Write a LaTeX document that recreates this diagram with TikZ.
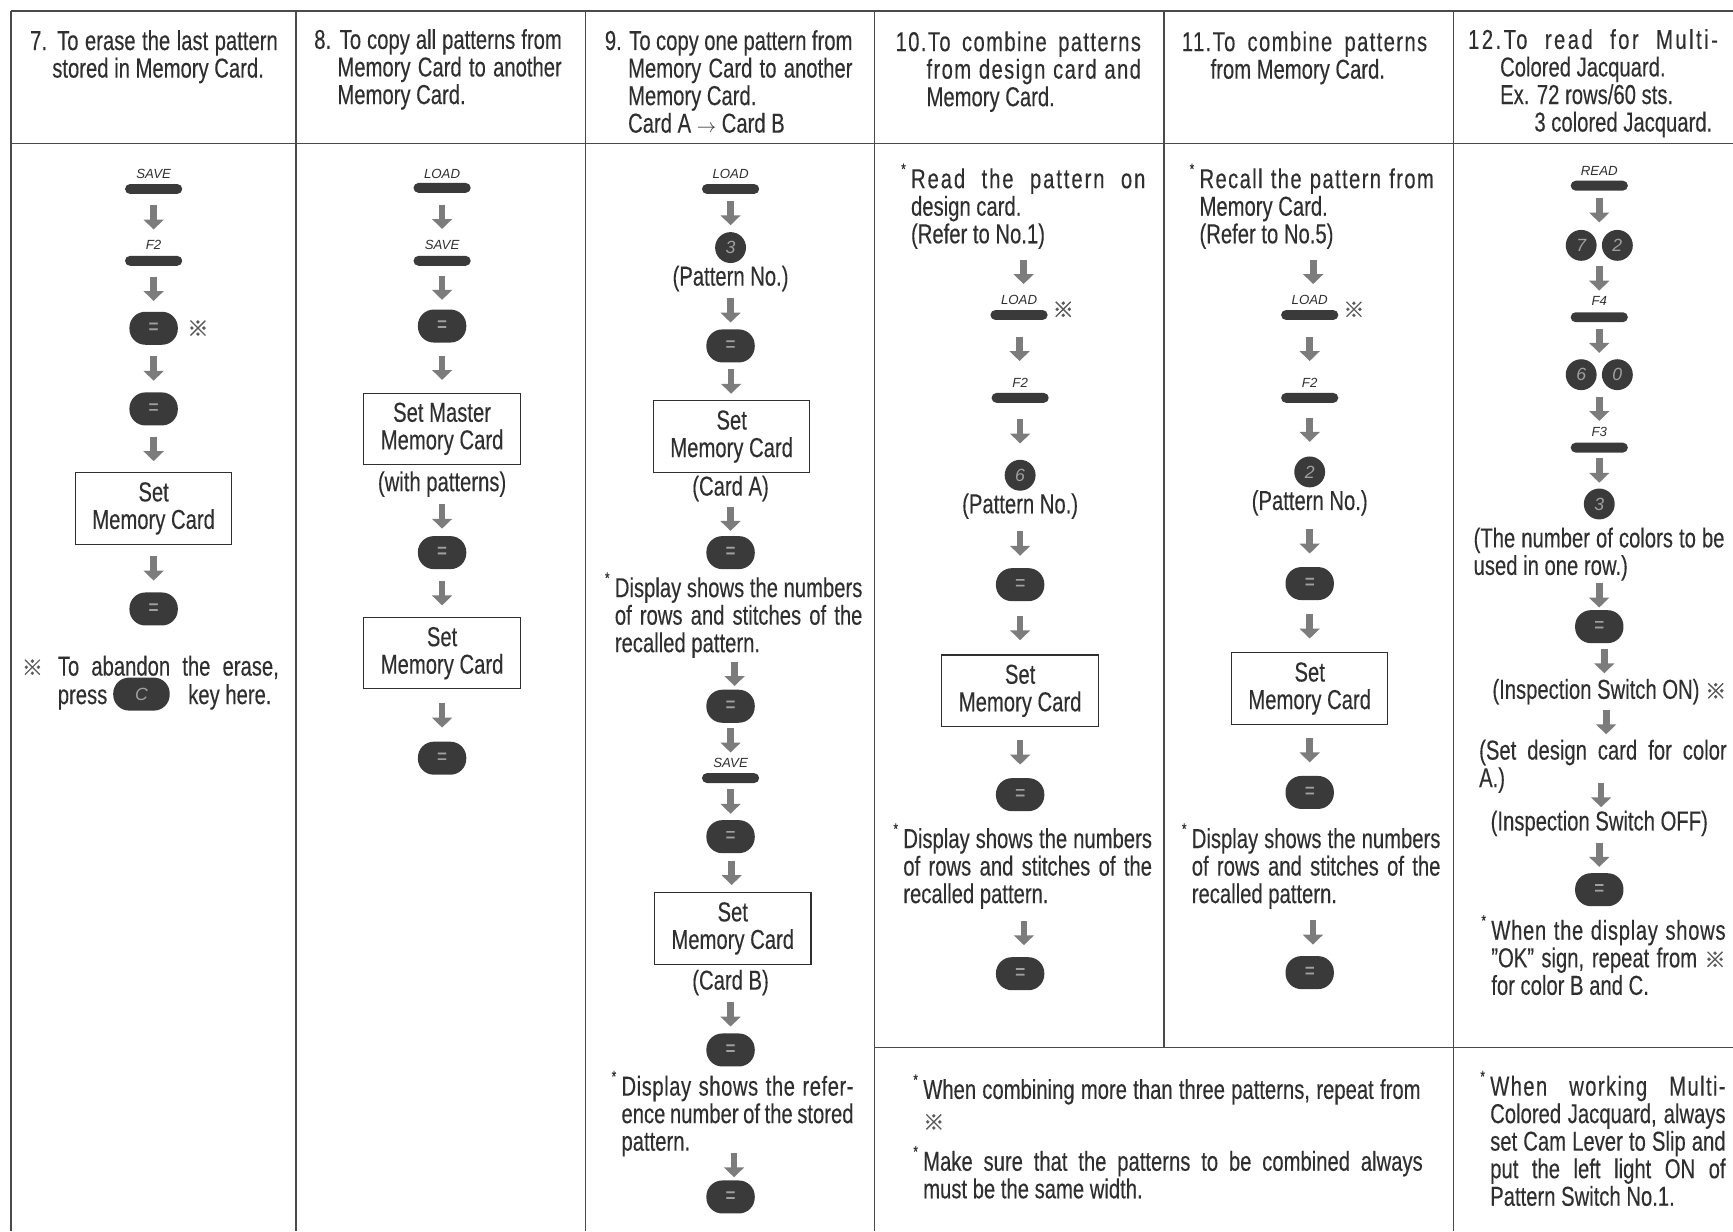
\documentclass[tikz,border=0pt]{standalone}
\usepackage{fontspec}
\setmainfont{Liberation Sans}[FakeStretch=0.74, FakeBold=0.25]
\newfontfamily\keyfont{Liberation Sans}
\newfontfamily\cjk{Noto Sans CJK SC}[FakeBold=1.2]
\usepackage{xcolor}
\usepackage{tikz}
\usetikzlibrary{arrows.meta,positioning,calc}

\definecolor{ink}{HTML}{2F2F2F}
\definecolor{keyfill}{HTML}{3A3A3A}
\definecolor{keytxt}{HTML}{A0A0A0}
\definecolor{arrgray}{HTML}{7C7C7C}
\definecolor{rulegray}{HTML}{4A4A4A}

\newlength\ux
\setlength\ux{0.022cm}
\newcommand\jl[2]{\makebox[#1\ux][s]{#2}}
\newcommand\lsp[2][5]{{\addfontfeature{LetterSpace=#1}#2}}
\newcommand\kome{{\cjk\fontsize{12pt}{12pt}\selectfont\textcolor{ink!80}{※}}}
\newcommand\nb{\llap{\smash{\raisebox{.5em}{\fontsize{9pt}{9pt}\selectfont *}}\hspace{3pt}}}
\newcommand\arr[3][0]{\draw [flow] ($(#2.south)!0.5!(#3.north)+(0,#1-11)$) -- ($(#2.south)!0.5!(#3.north)+(0,#1+11)$);}

\begin{document}
\begin{tikzpicture}[
    x=0.022cm, y=-0.022cm,
    txt/.style={anchor=north west, inner sep=0pt, align=left, text=ink, font=\fontsize{15.5pt}{15.6pt}\selectfont},
    ctr/.style={txt, anchor=center, align=center},
    mk/.style={inner sep=0pt},
    flbl/.style={inner sep=0pt, text=ink, font=\keyfont\itshape\fontsize{7.5pt}{7.5pt}\selectfont},
    fkey/.style={rectangle, fill=keyfill, rounded corners=2.8pt, minimum width=32.4pt, minimum height=5.6pt, inner sep=0pt},
    eqkey/.style={rectangle, fill=keyfill, rounded corners=9pt, minimum width=27.4pt, minimum height=18.7pt, inner sep=0pt, text=keytxt, font=\fontsize{13pt}{13pt}\selectfont},
    numkey/.style={circle, fill=keyfill, minimum size=17.5pt, inner sep=0pt, text=keytxt, font=\keyfont\itshape\fontsize{10pt}{10pt}\selectfont},
    setbox/.style={rectangle, draw=ink, line width=0.6pt, minimum width=88.6pt, minimum height=40.5pt, inner sep=0pt, align=center, text=ink, font=\fontsize{15.5pt}{15.6pt}\selectfont},
    flow/.style={draw=arrgray, line width=3.8pt, -{Triangle[width=11.2pt,length=5.6pt]}},
    rule/.style={draw=rulegray, line width=0.8pt}
]
    \useasboundingbox (0,0) rectangle (1568,1114);

    % table
    \draw [rule] (10,10) -- (1568,10);
    \draw [rule] (10,130) -- (1568,130);
    \foreach \x in {10,268,530,791,1315}
        \draw [rule] (\x,10) -- (\x,1114);
    \draw [rule] (1053,10) -- (1053,948);
    \draw [rule] (791,948) -- (1568,948);

    % headers
    \node [txt] (h7) at (27,27) {\jl{224}{7. To erase the last pattern}\\\hspace*{20\ux}stored in Memory Card.};
    \node [txt] (h8) at (284,26) {\jl{224}{8. To copy all patterns from}\\\hspace*{21\ux}\jl{203}{Memory Card to another}\\\hspace*{21\ux}Memory Card.};
    \node [txt] (h9) at (547,27) {\jl{224}{9. To copy one pattern from}\\\hspace*{21\ux}\jl{203}{Memory Card to another}\\\hspace*{21\ux}Memory Card.\\\hspace*{21\ux}Card A {\fontsize{11pt}{11pt}\selectfont$\rightarrow$} Card B};
    \node [txt] (h10) at (810,28) {\jl{222}{\lsp{10.To combine patterns}}\\\hspace*{28\ux}\jl{194}{\lsp{from design card and}}\\\hspace*{28\ux}Memory Card.};
    \node [txt] (h11) at (1069,28) {\jl{222}{\lsp{11.To combine patterns}}\\\hspace*{26\ux}from Memory Card.};
    \node [txt] (h12) at (1328,26) {\jl{226}{\lsp[9]{12.To read for Multi-}}\\\hspace*{29\ux}Colored Jacquard.\\\hspace*{29\ux}Ex. 72 rows/60 sts.\\\hspace*{60\ux}3 colored Jacquard.};

    % 7
    \node [flbl] (a1l) at (139,157) {SAVE};
    \node [fkey] (a1) at (139,171) {};
    \node [flbl] (a2l) at (139,222) {F2};
    \node [fkey] (a2) at (139,236) {};
    \node [eqkey] (a3) at (139,297) {=};
    \node [mk, right=5pt of a3] (a3m) {\kome};
    \node [eqkey] (a4) at (139,370) {=};
    \node [setbox] (a5) at (139,460) {Set\\Memory Card};
    \node [eqkey] (a6) at (139,551) {=};
    \node [txt] (a7) at (52,593) {\jl{200}{To abandon the erase,}};
    \node [mk, left=8pt of a7] (a7m) {\kome};
    \node [txt, anchor=base west] (a8) at (52,637) {press};
    \node [eqkey, minimum width=32pt] (a9) at (128,628) {\keyfont\itshape\fontsize{10pt}{10pt}\selectfont C};
    \node [txt, anchor=base west] (a10) at (170,637) {key here.};
    \arr{a1}{a2l}
    \arr{a2}{a3}
    \arr{a3}{a4}
    \arr{a4}{a5}
    \arr{a5}{a6}

    % 8
    \node [flbl] (b1l) at (400,157) {LOAD};
    \node [fkey] (b1) at (400,170) {};
    \node [flbl] (b2l) at (400,222) {SAVE};
    \node [fkey] (b2) at (400,236) {};
    \node [eqkey] (b3) at (400,295) {=};
    \node [setbox] (b4) at (400,388) {Set Master\\Memory Card};
    \node [ctr] (b5) at (400,438) {(with patterns)};
    \node [eqkey] (b6) at (400,500) {=};
    \node [setbox] (b7) at (400,591) {Set\\Memory Card};
    \node [eqkey] (b8) at (400,686) {=};
    \arr{b1}{b2l}
    \arr{b2}{b3}
    \arr{b3}{b4}
    \arr{b5}{b6}
    \arr{b6}{b7}
    \arr{b7}{b8}

    % 9
    \node [flbl] (c1l) at (661,157) {LOAD};
    \node [fkey] (c1) at (661,171) {};
    \node [numkey] (c2) at (661,224) {3};
    \node [ctr] (c3) at (661,252) {(Pattern No.)};
    \node [eqkey] (c4) at (661,313) {=};
    \node [setbox] (c5) at (662,395) {Set\\Memory Card};
    \node [ctr] (c6) at (661,442) {(Card A)};
    \node [eqkey] (c7) at (661,500) {=};
    \node [txt] (c8) at (556,522) {\nb\jl{224}{Display shows the numbers}\\\jl{224}{of rows and stitches of the}\\recalled pattern.};
    \node [eqkey] (c9) at (661,639) {=};
    \node [flbl] (c10l) at (661,690) {SAVE};
    \node [fkey] (c10) at (661,704) {};
    \node [eqkey] (c11) at (661,757) {=};
    \node [setbox] (c12) at (663,840) {Set\\Memory Card};
    \node [ctr] (c13) at (661,889) {(Card B)};
    \node [eqkey] (c14) at (661,950) {=};
    \node [txt] (c15) at (562,973) {\nb\jl{210}{\lsp[2]{Display shows the refer-}}\\\jl{210}{ence number of the stored}\\pattern.};
    \node [eqkey] (c16) at (661,1083) {=};
    \arr{c1}{c2}
    \arr{c3}{c4}
    \arr{c4}{c5}
    \arr{c6}{c7}
    \arr{c8}{c9}
    \arr{c9}{c10l}
    \arr{c10}{c11}
    \arr{c11}{c12}
    \arr{c13}{c14}
    \arr[-3]{c15}{c16}

    % 10
    \node [txt] (d1) at (824,152) {\nb\jl{212}{\lsp[7]{Read the pattern on}}\\design card.\\(Refer to No.1)};
    \node [flbl] (d2l) at (922,271) {LOAD};
    \node [fkey] (d2) at (922,285) {};
    \node [mk] (d2m) at (962,280) {\kome};
    \node [flbl] (d3l) at (923,346) {F2};
    \node [fkey] (d3) at (923,360) {};
    \node [numkey] (d4) at (923,430) {6};
    \node [ctr] (d5) at (923,458) {(Pattern No.)};
    \node [eqkey] (d6) at (923,529) {=};
    \node [setbox] (d7) at (923,625) {Set\\Memory Card};
    \node [eqkey] (d8) at (923,719) {=};
    \node [txt] (d9) at (817,749) {\nb\jl{225}{Display shows the numbers}\\\jl{225}{of rows and stitches of the}\\recalled pattern.};
    \node [eqkey] (d10) at (923,881) {=};
    \arr{d1}{d2l}
    \arr{d2}{d3l}
    \arr{d3}{d4}
    \arr{d5}{d6}
    \arr{d6}{d7}
    \arr{d7}{d8}
    \arr{d9}{d10}

    % 11
    \node [txt] (e1) at (1085,152) {\nb\jl{212}{\lsp{Recall the pattern from}}\\Memory Card.\\(Refer to No.5)};
    \node [flbl] (e2l) at (1185,271) {LOAD};
    \node [fkey] (e2) at (1185,285) {};
    \node [mk] (e2m) at (1225,280) {\kome};
    \node [flbl] (e3l) at (1185,346) {F2};
    \node [fkey] (e3) at (1185,360) {};
    \node [numkey] (e4) at (1185,427) {2};
    \node [ctr] (e5) at (1185,455) {(Pattern No.)};
    \node [eqkey] (e6) at (1185,528) {=};
    \node [setbox] (e7) at (1185,623) {Set\\Memory Card};
    \node [eqkey] (e8) at (1185,717) {=};
    \node [txt] (e9) at (1078,749) {\nb\jl{225}{Display shows the numbers}\\\jl{225}{of rows and stitches of the}\\recalled pattern.};
    \node [eqkey] (e10) at (1185,880) {=};
    \arr{e1}{e2l}
    \arr{e2}{e3l}
    \arr{e3}{e4}
    \arr{e5}{e6}
    \arr{e6}{e7}
    \arr{e7}{e8}
    \arr{e9}{e10}

    % 10+11 notes
    \node [txt] (g1) at (835,976) {\nb\jl{450}{When combining more than three patterns, repeat from}\\[2pt]\kome};
    \node [txt] (g2) at (835,1041) {\nb\jl{452}{Make sure that the patterns to be combined always}\\must be the same width.};

    % 12
    \node [flbl] (f1l) at (1447,155) {READ};
    \node [fkey] (f1) at (1447,168) {};
    \node [mk, minimum width=38pt, minimum height=17.5pt] (f2) at (1447,222) {};
    \node [numkey, anchor=west] (f2a) at (f2.west) {7};
    \node [numkey, anchor=east] (f2b) at (f2.east) {2};
    \node [flbl] (f3l) at (1447,272) {F4};
    \node [fkey] (f3) at (1447,287) {};
    \node [mk, minimum width=38pt, minimum height=17.5pt] (f4) at (1447,339) {};
    \node [numkey, anchor=west] (f4a) at (f4.west) {6};
    \node [numkey, anchor=east] (f4b) at (f4.east) {0};
    \node [flbl] (f5l) at (1447,391) {F3};
    \node [fkey] (f5) at (1447,405) {};
    \node [numkey] (f6) at (1447,456) {3};
    \node [txt] (f7) at (1333,477) {\jl{227}{(The number of colors to be}\\used in one row.)};
    \node [eqkey] (f8) at (1447,567) {=};
    \node [txt] (f9) at (1350,614) {(Inspection Switch ON) \kome};
    \node [txt] (f10) at (1338,669) {\jl{224}{(Set design card for color}\\A.)};
    \node [ctr] (f11) at (1447,745) {(Inspection Switch OFF)};
    \node [eqkey] (f12) at (1447,805) {=};
    \node [txt] (f13) at (1349,832) {\nb\jl{212}{\lsp[2.5]{When the display shows}}\\\jl{212}{''OK'' sign, repeat from \kome}\\for color B and C.};
    \node [txt] (f14) at (1348,973) {\nb\jl{213}{\lsp{When working Multi-}}\\\jl{213}{Colored Jacquard, always}\\\jl{213}{set Cam Lever to Slip and}\\\jl{213}{put the left light ON of}\\Pattern Switch No.1.};
    \arr{f1}{f2}
    \arr{f2}{f3l}
    \arr{f3}{f4}
    \arr{f4}{f5l}
    \arr{f5}{f6}
    \arr{f7}{f8}
    \arr{f8}{f9}
    \arr{f9}{f10}
    \arr[-6]{f10}{f11}
    \arr{f11}{f12}
\end{tikzpicture}
\end{document}
